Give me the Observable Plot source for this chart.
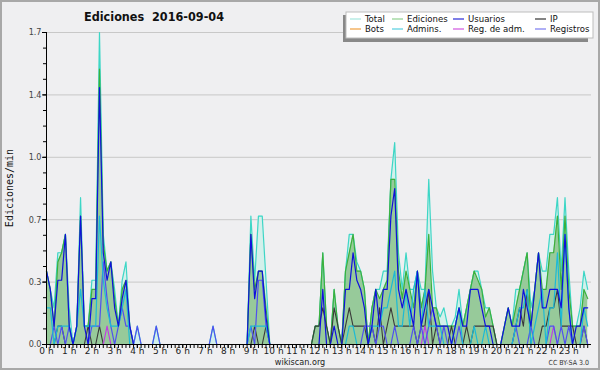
<!DOCTYPE html>
<html><head><meta charset="utf-8">
<script src="https://cdn.jsdelivr.net/npm/d3@7"></script>
<script src="https://cdn.jsdelivr.net/npm/@observablehq/plot@0.6"></script>
<style>
html,body{margin:0;padding:0;background:#efeff1;}
#chart{width:600px;height:370px;overflow:hidden;}
</style></head><body><div id="chart"></div>
<script>
const title = "Ediciones  2016-09-04";
const yLabel = "Ediciones/min";
const credit = "wikiscan.org";
const license = "CC BY-SA 3.0";

// 144 ten-minute slots (hours)
const slots = d3.range(144).map(i => i / 6);
const hourTicks = d3.range(24);
const yMajor = [0, 0.34, 0.68, 1.02, 1.36, 1.7];
const yMinor = d3.range(0, 1.701, 0.085);

const legendNames = ["Total", "Ediciones", "Usuarios", "IP", "Bots", "Admins.", "Reg. de adm.", "Registros"];
const legendColors = ["#a6e6de", "#8fd08f", "#2a2ad8", "#333333", "#f0a040", "#55cfe0", "#d055e0", "#7a7af0"];

// values per slot, edits/min (6 slots per hour)
const total = [
 .4,.3,.2,.5,.5,.6,  .2,0,.1,.8,.1,.1,
 .35,.35,1.7,.6,.4,.45,  .3,.1,.35,.45,.1,0,
 .1,0,0,0,0,.1,  0,0,0,0,0,0,
 0,0,0,0,0,0,  0,0,.1,0,0,0,
 0,0,0,0,0,0,  .7,.35,.7,.7,.35,0,
 0,0,0,0,0,0,  0,0,0,0,0,.1,
 .1,.5,.1,0,.3,.1,  0,.4,.6,.6,.45,.4,
 .3,0,.2,.3,.3,.4,  .4,.9,1.1,.5,.3,.5,
 .3,.3,.4,.3,.3,.9,  .4,.2,.15,.2,.1,.1,
 .15,.3,.1,.2,.3,.4,  .4,.3,.2,.2,.1,0,
 0,.1,.2,.1,.3,.3,  .4,.5,.2,.3,.5,.4,
 .4,.6,.6,.8,.4,.8,  .4,.1,.1,.2,.4,.3
];
const ediciones = [
 .4,.3,.1,.45,.5,.6,  .1,0,.1,.7,.1,.1,
 .3,.3,1.5,.55,.4,.45,  .25,.1,.3,.35,.1,0,
 0,0,0,0,0,0,  0,0,0,0,0,0,
 0,0,0,0,0,0,  0,0,0,0,0,0,
 0,0,0,0,0,0,  .6,.3,.4,.4,.2,0,
 0,0,0,0,0,0,  0,0,0,0,0,.1,
 .1,.5,.1,0,.3,.1,  0,.4,.5,.6,.4,.4,
 .3,0,.2,.3,.25,.3,  .35,.9,.9,.4,.25,.4,
 .3,.2,.4,.2,.3,.6,  .2,.2,.1,.1,.1,.1,
 .1,.2,.1,.2,.3,.4,  .35,.3,.15,.2,.1,0,
 0,.1,.2,.1,.2,.3,  .4,.5,.1,.3,.5,.3,
 .3,.5,.5,.7,.3,.7,  .3,.1,.1,.1,.3,.25
];
const usuarios = [
 .4,.3,.1,.35,.35,.6,  .1,0,.1,.7,.1,0,
 .25,.25,1.4,.5,.35,.45,  .2,.1,.25,.35,.1,0,
 0,0,0,0,0,0,  0,0,0,0,0,0,
 0,0,0,0,0,0,  0,0,0,0,0,0,
 0,0,0,0,0,0,  .6,.25,.4,.4,.15,0,
 0,0,0,0,0,0,  0,0,0,0,0,0,
 0,.3,0,0,.1,0,  0,.3,.3,.5,.35,.3,
 .2,0,.1,.3,.1,.3,  .3,.7,.85,.3,.2,.3,
 .2,.1,.4,.1,.2,.3,  .2,.1,.1,.1,.1,0,
 .1,.2,.1,.1,.3,.3,  .3,.2,.1,.1,0,0,
 0,.1,.2,.1,.1,.1,  .3,.2,.1,.3,.5,.2,
 .2,.3,.3,.3,.2,.6,  .2,0,.1,.1,.2,.2
];
const ip = [
 0,0,0,.1,.1,0,  0,0,0,0,0,.1,
 0,0,.1,0,0,0,  0,0,0,0,0,0,
 0,0,0,0,0,0,  0,0,0,0,0,0,
 0,0,0,0,0,0,  0,0,0,0,0,0,
 0,0,0,0,0,0,  0,.1,0,0,.1,0,
 0,0,0,0,0,0,  0,0,0,0,0,.1,
 .1,.2,.1,0,.2,.1,  0,.1,.2,.1,.1,.1,
 .1,0,.1,0,.2,0,  .1,.2,.1,.1,.1,.1,
 .1,.1,0,.1,.1,.3,  0,.1,0,0,0,.1,
 0,0,0,.1,0,.1,  .1,.1,.1,.1,.1,0,
 0,0,0,0,.1,.2,  .1,.3,0,0,0,.1,
 .1,.2,.2,.3,.1,.1,  .1,.1,0,0,.1,0
];
const admins = [
 .2,.2,0,.1,.1,.1,  .1,0,.1,.3,.1,.1,
 .1,.1,.7,.35,.2,.1,  .1,.1,.2,.3,0,0,
 0,0,0,0,0,0,  0,0,0,0,0,0,
 0,0,0,0,0,0,  0,0,0,0,0,0,
 0,0,0,0,0,0,  .1,.1,.1,.1,.1,0,
 0,0,0,0,0,0,  0,0,0,0,0,0,
 0,0,0,0,0,0,  0,0,.1,.1,0,0,
 0,0,.1,.1,.1,.2,  .2,.3,.4,.1,.1,.3,
 .1,.3,.4,.1,.3,.1,  .1,.1,.1,0,0,0,
 .1,.2,0,0,0,.1,  0,0,.1,0,0,0,
 0,0,0,0,.1,.2,  .2,.3,0,.1,.2,.3,
 0,.2,.2,.5,.1,.6,  .2,0,0,0,.2,.1
];
const registros = [
 0,0,.1,0,.1,0,  .1,0,0,0,0,0,
 .1,.1,.1,.45,.25,.1,  0,.1,.2,.1,.1,0,
 .1,0,0,0,0,.1,  0,0,0,0,0,0,
 0,0,0,0,0,0,  0,0,.1,0,0,0,
 0,0,0,0,0,0,  .1,0,.35,.35,.1,0,
 0,0,0,0,0,0,  0,0,0,0,0,0,
 0,0,0,0,0,0,  0,0,0,0,0,0,
 .1,.1,.1,0,.1,.1,  0,0,.1,0,0,0,
 0,.1,0,.1,0,.1,  .2,.1,0,.1,0,0,
 0,.1,0,0,0,0,  0,0,0,0,0,0,
 0,0,0,0,.1,0,  0,0,.1,0,0,0,
 0,.1,.1,0,.1,0,  .1,0,0,0,.1,0
];
const regAdm = [
 0,0,0,0,0,0,  0,0,0,0,0,0,
 0,0,0,0,.1,0,  0,0,0,0,0,0,
 0,0,0,0,0,0,  0,0,0,0,0,0,
 0,0,0,0,0,0,  0,0,0,0,0,0,
 0,0,0,0,0,0,  0,0,0,0,0,0,
 0,0,0,0,0,0,  0,0,0,0,0,0,
 0,0,0,0,0,0,  0,0,0,0,0,0,
 0,0,0,0,0,0,  0,0,0,0,0,0,
 0,0,0,0,.1,0,  0,0,0,0,0,0,
 0,0,0,0,0,0,  0,0,0,0,0,0,
 0,0,0,0,0,0,  0,0,0,0,0,0,
 0,0,.1,0,0,0,  0,0,0,0,0,0
];

const rows = slots.map((t, i) => ({
  t, total: total[i], ediciones: ediciones[i], usuarios: usuarios[i], ip: ip[i],
  admins: admins[i], registros: registros[i], regAdm: regAdm[i]
}));

const lw = 1.2;
const chart = Plot.plot({
  width: 600, height: 370,
  marginLeft: 46, marginRight: 9, marginTop: 32, marginBottom: 26,
  style: {background: "#efeff1", fontFamily: "DejaVu Sans", fontSize: "9px", color: "#000", overflow: "visible"},
  x: {domain: [0, 24], axis: null},
  y: {domain: [0, 1.7], axis: null},
  marks: [
    Plot.gridY(yMajor, {stroke: "#c8c8c8", strokeOpacity: 1}),
    Plot.areaY(rows, {x: "t", y: "total", fill: "#d3f0eb"}),
    Plot.areaY(rows, {x: "t", y: "ediciones", fill: "#97ca9a"}),
    Plot.lineY(rows, {x: "t", y: "total", stroke: "#3dd6c6", strokeWidth: lw}),
    Plot.lineY(rows, {x: "t", y: "ediciones", stroke: "#3cb03c", strokeWidth: lw}),
    Plot.lineY(rows, {x: "t", y: "ip", stroke: "#3a3a3a", strokeWidth: 1.1}),
    Plot.lineY(rows, {x: "t", y: "regAdm", stroke: "#c040e0", strokeWidth: lw}),
    Plot.lineY(rows, {x: "t", y: "registros", stroke: "#5050f0", strokeWidth: lw}),
    Plot.lineY(rows, {x: "t", y: "admins", stroke: "#1cbad6", strokeWidth: lw}),
    Plot.lineY(rows, {x: "t", y: "usuarios", stroke: "#1010dd", strokeWidth: lw}),
    Plot.ruleX([0], {stroke: "#000"}),
    Plot.ruleY([0], {stroke: "#000"}),
    Plot.axisY(yMajor, {tickSize: 4, tickPadding: 1, tickFormat: d3.format(".1f"), label: null, fill: "#444", fontFamily: "DejaVu Sans Condensed", fontSize: 9}),
    Plot.axisY(yMinor, {tickSize: 3, tickFormat: () => "", label: null}),
    Plot.axisX(slots, {tickSize: 4, tickFormat: () => "", label: null}),
    Plot.axisX(hourTicks, {tickSize: 4, tickPadding: -1, tickFormat: d => `${d} h`, label: null, fill: "#222", fontSize: 9})
  ]
});
document.getElementById("chart").appendChild(chart);

const svg = d3.select(chart);
svg.append("rect").attr("x", 1).attr("y", 1).attr("width", 598).attr("height", 368)
  .attr("fill", "none").attr("stroke", "#a8a8a8").attr("stroke-width", 2);

svg.append("text").text(title)
  .attr("x", 154).attr("y", 21).attr("text-anchor", "middle")
  .style("white-space", "pre").attr("font-family", "DejaVu Sans Condensed")
  .attr("font-weight", "bold").attr("font-size", 12.5).attr("fill", "#111");

svg.append("text").text(yLabel)
  .attr("transform", "translate(10,188) rotate(-90)").attr("text-anchor", "middle")
  .attr("dominant-baseline", "middle").attr("font-family", "DejaVu Sans Mono")
  .attr("font-size", 10).attr("fill", "#111");

svg.append("text").text(credit).attr("x", 300).attr("y", 365).attr("text-anchor", "middle")
  .attr("font-family", "DejaVu Sans Condensed").attr("font-size", 9).attr("fill", "#222");
svg.append("text").text(license).attr("x", 589).attr("y", 365).attr("text-anchor", "end")
  .attr("font-family", "DejaVu Sans Condensed").attr("font-size", 7).attr("fill", "#333");

// legend
const lg = svg.append("g").attr("text-anchor", "start");
lg.append("rect").attr("x", 343).attr("y", 15).attr("width", 245).attr("height", 27).attr("fill", "#888");
lg.append("rect").attr("x", 346).attr("y", 12).attr("width", 247).attr("height", 26)
  .attr("fill", "#fff").attr("stroke", "#bdbdbd");
const colX = [350, 392, 453, 535];
legendNames.forEach((name, k) => {
  const c = k % 4, r = Math.floor(k / 4);
  const cy = 19 + r * 10;
  lg.append("line").attr("x1", colX[c]).attr("x2", colX[c] + 11).attr("y1", cy).attr("y2", cy)
    .attr("stroke", legendColors[k]).attr("stroke-width", 1.2);
  lg.append("text").text(name).attr("x", colX[c] + 15).attr("y", cy).attr("dy", "0.36em")
    .attr("text-anchor", "start")
    .attr("font-family", "DejaVu Sans Condensed").attr("font-size", 9.5).attr("fill", "#111");
});
</script>
</body></html>
